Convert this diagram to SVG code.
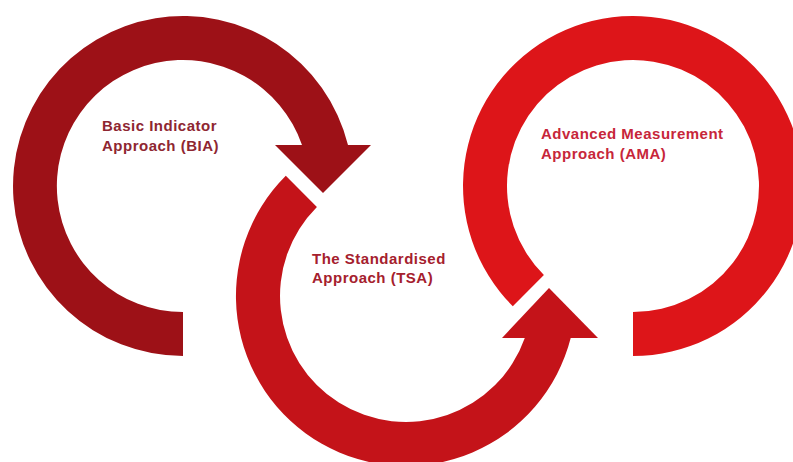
<svg xmlns="http://www.w3.org/2000/svg" width="793" height="462" viewBox="0 0 793 462">
  <style>
    .lbl { font-family: "Liberation Sans", Arial, sans-serif; font-size: 15px; font-weight: bold; letter-spacing: 0.5px; }
    .bia { fill: #9D1117; }
    .tsa { fill: #C41319; }
    .ama { fill: #DD1519; }
    .tbia { fill: #8E2631; }
    .ttsa { fill: #A5202D; }
    .tama { fill: #C7263A; }
  </style>
  <rect width="793" height="462" fill="#ffffff"/>
  <g id="node-bia">
    <path class="bia" d="M183,356 A170,170 0 1 1 348,145 L302,145 A126,126 0 1 0 183,312 Z"/>
    <text class="lbl tbia" x="102" y="131">Basic Indicator</text>
    <text class="lbl tbia" x="102" y="151">Approach (BIA)</text>
  </g>
  <g id="node-tsa">
    <path class="tsa" d="M285.8,175.8 A170,170 0 1 0 570.7,338 L524.8,338 A126,126 0 1 1 316.9,206.9 Z"/>
    <text class="lbl ttsa" x="312" y="264">The Standardised</text>
    <text class="lbl ttsa" x="312" y="283">Approach (TSA)</text>
  </g>
  <g id="node-ama">
    <path class="ama" d="M633,356 A170,170 0 1 0 512.8,306.2 L543.9,275.1 A126,126 0 1 1 633,312 Z"/>
    <text class="lbl tama" x="541" y="139">Advanced Measurement</text>
    <text class="lbl tama" x="541" y="159">Approach (AMA)</text>
  </g>
  <g id="connectors">
    <polygon class="bia" points="275,145 371,145 323,193"/>
    <polygon class="tsa" points="502,338 598,338 549,288"/>
  </g>
</svg>
